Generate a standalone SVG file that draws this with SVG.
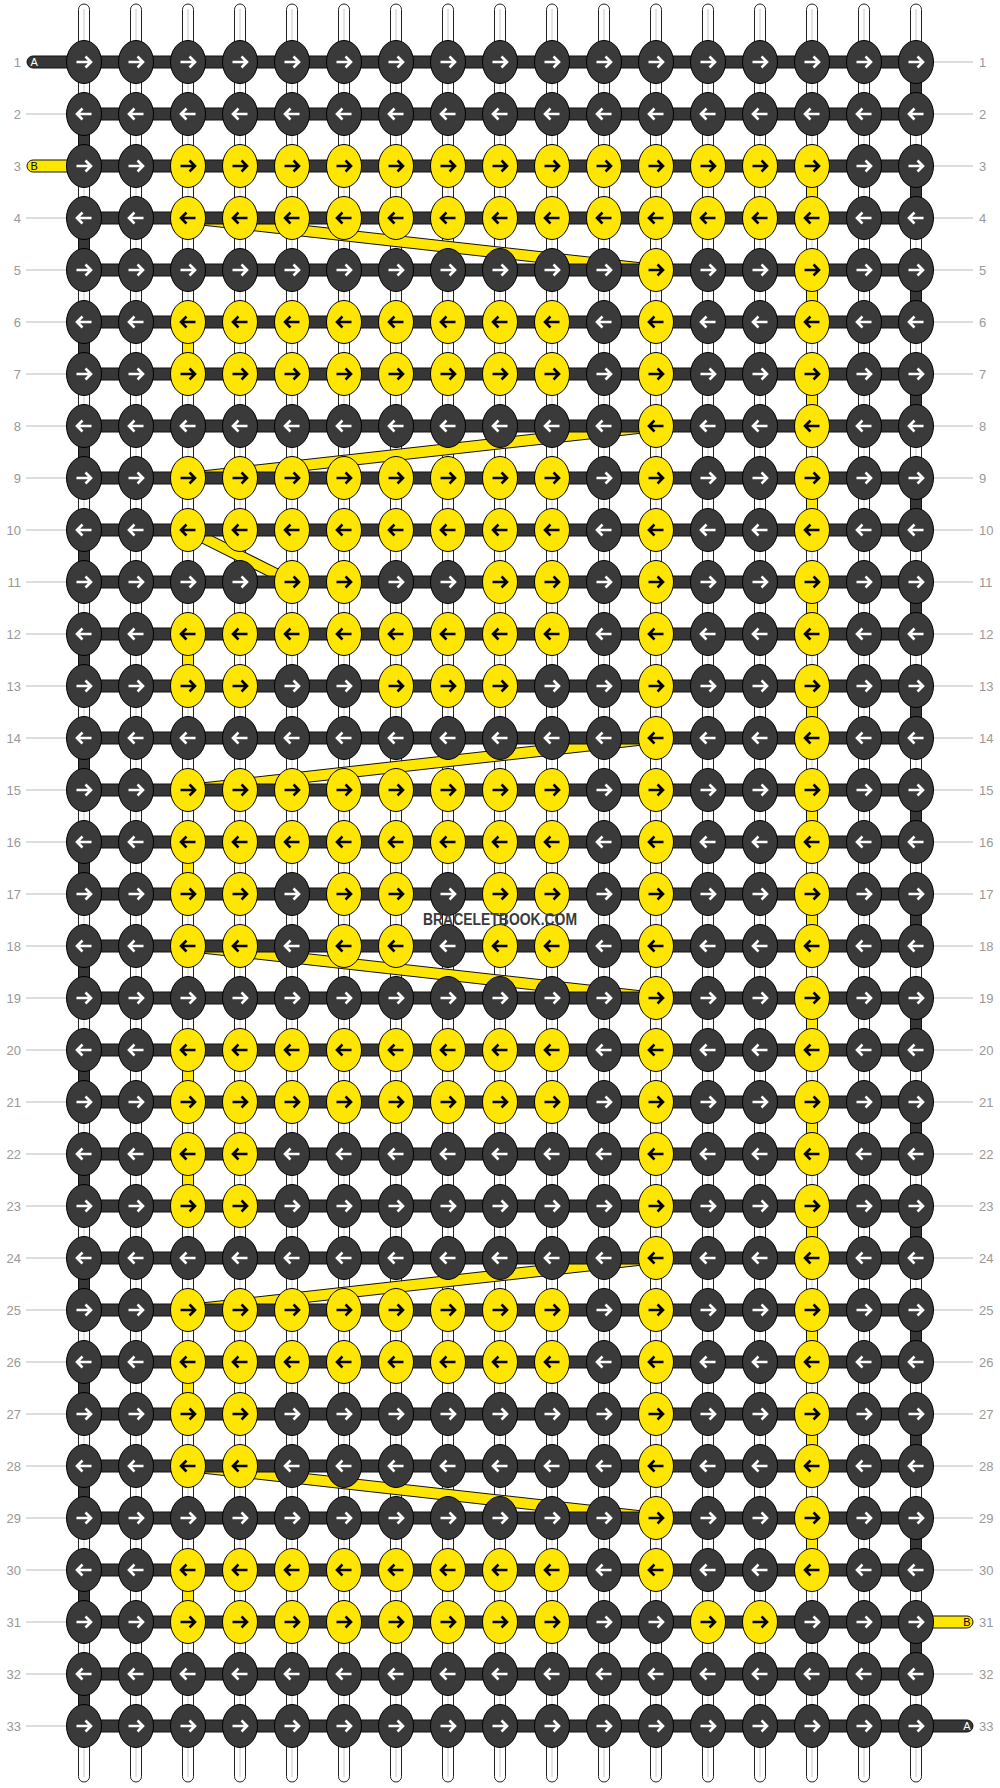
<svg xmlns="http://www.w3.org/2000/svg" xmlns:xlink="http://www.w3.org/1999/xlink" width="1000" height="1788" viewBox="0 0 1000 1788">
<style>
.str{fill:#fff;stroke:#222;stroke-width:1}
.sc{stroke:#c8c8c8;stroke-width:1}
.hb{fill:#363636;stroke:#111;stroke-width:1}
.ty{fill:#ffe600;stroke:#111;stroke-width:1}
.dg1{stroke:#111;stroke-width:12;fill:none}
.dg2{stroke:#ffe600;stroke-width:10;fill:none}
.kd{fill:#3a3a3a;stroke:#000;stroke-width:1}
.ky{fill:#ffe600;stroke:#000;stroke-width:1}
.aw{fill:none;stroke:#fff;stroke-width:2.6}
.ab{fill:none;stroke:#000;stroke-width:2.6}
.lab{font-family:"Liberation Sans",Arial,sans-serif;font-size:13px;fill:#999}
.ll{stroke:#bbb;stroke-width:1}
.tl{font-family:"Liberation Sans",Arial,sans-serif;font-size:11px}
</style>
<defs>
<g id="dR"><ellipse class="kd" rx="17.5" ry="21.5"/><path class="aw" d="M-7.5,0H6.5M1.5,-5.5L7,0L1.5,5.5"/></g>
<g id="dL"><ellipse class="kd" rx="17.5" ry="21.5"/><path class="aw" d="M7.5,0H-6.5M-1.5,-5.5L-7,0L-1.5,5.5"/></g>
<g id="yR"><ellipse class="ky" rx="17.5" ry="21.5"/><path class="ab" d="M-7.5,0H6.5M1.5,-5.5L7,0L1.5,5.5"/></g>
<g id="yL"><ellipse class="ky" rx="17.5" ry="21.5"/><path class="ab" d="M7.5,0H-6.5M-1.5,-5.5L-7,0L-1.5,5.5"/></g>
</defs>
<rect width="1000" height="1788" fill="#fff"/>
<g id="strings">
<rect class="str" x="78.5" y="4" width="11" height="1778" rx="5.5"/><line class="sc" x1="84" y1="9" x2="84" y2="1777"/>
<rect class="str" x="130.5" y="4" width="11" height="1778" rx="5.5"/><line class="sc" x1="136" y1="9" x2="136" y2="1777"/>
<rect class="str" x="182.5" y="4" width="11" height="1778" rx="5.5"/><line class="sc" x1="188" y1="9" x2="188" y2="1777"/>
<rect class="str" x="234.5" y="4" width="11" height="1778" rx="5.5"/><line class="sc" x1="240" y1="9" x2="240" y2="1777"/>
<rect class="str" x="286.5" y="4" width="11" height="1778" rx="5.5"/><line class="sc" x1="292" y1="9" x2="292" y2="1777"/>
<rect class="str" x="338.5" y="4" width="11" height="1778" rx="5.5"/><line class="sc" x1="344" y1="9" x2="344" y2="1777"/>
<rect class="str" x="390.5" y="4" width="11" height="1778" rx="5.5"/><line class="sc" x1="396" y1="9" x2="396" y2="1777"/>
<rect class="str" x="442.5" y="4" width="11" height="1778" rx="5.5"/><line class="sc" x1="448" y1="9" x2="448" y2="1777"/>
<rect class="str" x="494.5" y="4" width="11" height="1778" rx="5.5"/><line class="sc" x1="500" y1="9" x2="500" y2="1777"/>
<rect class="str" x="546.5" y="4" width="11" height="1778" rx="5.5"/><line class="sc" x1="552" y1="9" x2="552" y2="1777"/>
<rect class="str" x="598.5" y="4" width="11" height="1778" rx="5.5"/><line class="sc" x1="604" y1="9" x2="604" y2="1777"/>
<rect class="str" x="650.5" y="4" width="11" height="1778" rx="5.5"/><line class="sc" x1="656" y1="9" x2="656" y2="1777"/>
<rect class="str" x="702.5" y="4" width="11" height="1778" rx="5.5"/><line class="sc" x1="708" y1="9" x2="708" y2="1777"/>
<rect class="str" x="754.5" y="4" width="11" height="1778" rx="5.5"/><line class="sc" x1="760" y1="9" x2="760" y2="1777"/>
<rect class="str" x="806.5" y="4" width="11" height="1778" rx="5.5"/><line class="sc" x1="812" y1="9" x2="812" y2="1777"/>
<rect class="str" x="858.5" y="4" width="11" height="1778" rx="5.5"/><line class="sc" x1="864" y1="9" x2="864" y2="1777"/>
<rect class="str" x="910.5" y="4" width="11" height="1778" rx="5.5"/><line class="sc" x1="916" y1="9" x2="916" y2="1777"/>
</g>
<g id="labels">
<g class="ll">
<line x1="26" y1="114" x2="84" y2="114"/><line x1="26" y1="218" x2="84" y2="218"/><line x1="26" y1="270" x2="84" y2="270"/><line x1="26" y1="322" x2="84" y2="322"/><line x1="26" y1="374" x2="84" y2="374"/><line x1="26" y1="426" x2="84" y2="426"/><line x1="26" y1="478" x2="84" y2="478"/><line x1="26" y1="530" x2="84" y2="530"/><line x1="26" y1="582" x2="84" y2="582"/><line x1="26" y1="634" x2="84" y2="634"/><line x1="26" y1="686" x2="84" y2="686"/><line x1="26" y1="738" x2="84" y2="738"/><line x1="26" y1="790" x2="84" y2="790"/><line x1="26" y1="842" x2="84" y2="842"/><line x1="26" y1="894" x2="84" y2="894"/><line x1="26" y1="946" x2="84" y2="946"/><line x1="26" y1="998" x2="84" y2="998"/><line x1="26" y1="1050" x2="84" y2="1050"/><line x1="26" y1="1102" x2="84" y2="1102"/><line x1="26" y1="1154" x2="84" y2="1154"/><line x1="26" y1="1206" x2="84" y2="1206"/><line x1="26" y1="1258" x2="84" y2="1258"/><line x1="26" y1="1310" x2="84" y2="1310"/><line x1="26" y1="1362" x2="84" y2="1362"/><line x1="26" y1="1414" x2="84" y2="1414"/><line x1="26" y1="1466" x2="84" y2="1466"/><line x1="26" y1="1518" x2="84" y2="1518"/><line x1="26" y1="1570" x2="84" y2="1570"/><line x1="26" y1="1622" x2="84" y2="1622"/><line x1="26" y1="1674" x2="84" y2="1674"/><line x1="26" y1="1726" x2="84" y2="1726"/>
<line x1="916" y1="62" x2="973" y2="62"/><line x1="916" y1="114" x2="973" y2="114"/><line x1="916" y1="166" x2="973" y2="166"/><line x1="916" y1="218" x2="973" y2="218"/><line x1="916" y1="270" x2="973" y2="270"/><line x1="916" y1="322" x2="973" y2="322"/><line x1="916" y1="374" x2="973" y2="374"/><line x1="916" y1="426" x2="973" y2="426"/><line x1="916" y1="478" x2="973" y2="478"/><line x1="916" y1="530" x2="973" y2="530"/><line x1="916" y1="582" x2="973" y2="582"/><line x1="916" y1="634" x2="973" y2="634"/><line x1="916" y1="686" x2="973" y2="686"/><line x1="916" y1="738" x2="973" y2="738"/><line x1="916" y1="790" x2="973" y2="790"/><line x1="916" y1="842" x2="973" y2="842"/><line x1="916" y1="894" x2="973" y2="894"/><line x1="916" y1="946" x2="973" y2="946"/><line x1="916" y1="998" x2="973" y2="998"/><line x1="916" y1="1050" x2="973" y2="1050"/><line x1="916" y1="1102" x2="973" y2="1102"/><line x1="916" y1="1154" x2="973" y2="1154"/><line x1="916" y1="1206" x2="973" y2="1206"/><line x1="916" y1="1258" x2="973" y2="1258"/><line x1="916" y1="1310" x2="973" y2="1310"/><line x1="916" y1="1362" x2="973" y2="1362"/><line x1="916" y1="1414" x2="973" y2="1414"/><line x1="916" y1="1466" x2="973" y2="1466"/><line x1="916" y1="1518" x2="973" y2="1518"/><line x1="916" y1="1570" x2="973" y2="1570"/><line x1="916" y1="1674" x2="973" y2="1674"/>
</g>
<g class="lab" text-anchor="end">
<text x="21" y="66.5">1</text><text x="21" y="118.5">2</text><text x="21" y="170.5">3</text><text x="21" y="222.5">4</text><text x="21" y="274.5">5</text><text x="21" y="326.5">6</text><text x="21" y="378.5">7</text><text x="21" y="430.5">8</text><text x="21" y="482.5">9</text><text x="21" y="534.5">10</text><text x="21" y="586.5">11</text><text x="21" y="638.5">12</text><text x="21" y="690.5">13</text><text x="21" y="742.5">14</text><text x="21" y="794.5">15</text><text x="21" y="846.5">16</text><text x="21" y="898.5">17</text><text x="21" y="950.5">18</text><text x="21" y="1002.5">19</text><text x="21" y="1054.5">20</text><text x="21" y="1106.5">21</text><text x="21" y="1158.5">22</text><text x="21" y="1210.5">23</text><text x="21" y="1262.5">24</text><text x="21" y="1314.5">25</text><text x="21" y="1366.5">26</text><text x="21" y="1418.5">27</text><text x="21" y="1470.5">28</text><text x="21" y="1522.5">29</text><text x="21" y="1574.5">30</text><text x="21" y="1626.5">31</text><text x="21" y="1678.5">32</text><text x="21" y="1730.5">33</text>
</g>
<g class="lab" text-anchor="start">
<text x="979" y="66.5">1</text><text x="979" y="118.5">2</text><text x="979" y="170.5">3</text><text x="979" y="222.5">4</text><text x="979" y="274.5">5</text><text x="979" y="326.5">6</text><text x="979" y="378.5">7</text><text x="979" y="430.5">8</text><text x="979" y="482.5">9</text><text x="979" y="534.5">10</text><text x="979" y="586.5">11</text><text x="979" y="638.5">12</text><text x="979" y="690.5">13</text><text x="979" y="742.5">14</text><text x="979" y="794.5">15</text><text x="979" y="846.5">16</text><text x="979" y="898.5">17</text><text x="979" y="950.5">18</text><text x="979" y="1002.5">19</text><text x="979" y="1054.5">20</text><text x="979" y="1106.5">21</text><text x="979" y="1158.5">22</text><text x="979" y="1210.5">23</text><text x="979" y="1262.5">24</text><text x="979" y="1314.5">25</text><text x="979" y="1366.5">26</text><text x="979" y="1418.5">27</text><text x="979" y="1470.5">28</text><text x="979" y="1522.5">29</text><text x="979" y="1574.5">30</text><text x="979" y="1626.5">31</text><text x="979" y="1678.5">32</text><text x="979" y="1730.5">33</text>
</g>
</g>
<g id="connectors">
<g id="turns">
<rect class="hb" x="910.5" y="80" width="11" height="16"/><rect class="hb" x="910.5" y="184" width="11" height="16"/><rect class="hb" x="910.5" y="288" width="11" height="16"/><rect class="hb" x="910.5" y="392" width="11" height="16"/><rect class="hb" x="910.5" y="496" width="11" height="16"/><rect class="hb" x="910.5" y="600" width="11" height="16"/><rect class="hb" x="910.5" y="704" width="11" height="16"/><rect class="hb" x="910.5" y="808" width="11" height="16"/><rect class="hb" x="910.5" y="912" width="11" height="16"/><rect class="hb" x="910.5" y="1016" width="11" height="16"/><rect class="hb" x="910.5" y="1120" width="11" height="16"/><rect class="hb" x="910.5" y="1224" width="11" height="16"/><rect class="hb" x="910.5" y="1328" width="11" height="16"/><rect class="hb" x="910.5" y="1432" width="11" height="16"/><rect class="hb" x="910.5" y="1536" width="11" height="16"/><rect class="hb" x="910.5" y="1640" width="11" height="16"/>
<rect class="hb" x="78.5" y="132" width="11" height="16"/><rect class="hb" x="78.5" y="236" width="11" height="16"/><rect class="hb" x="78.5" y="340" width="11" height="16"/><rect class="hb" x="78.5" y="444" width="11" height="16"/><rect class="hb" x="78.5" y="548" width="11" height="16"/><rect class="hb" x="78.5" y="652" width="11" height="16"/><rect class="hb" x="78.5" y="756" width="11" height="16"/><rect class="hb" x="78.5" y="860" width="11" height="16"/><rect class="hb" x="78.5" y="964" width="11" height="16"/><rect class="hb" x="78.5" y="1068" width="11" height="16"/><rect class="hb" x="78.5" y="1172" width="11" height="16"/><rect class="hb" x="78.5" y="1276" width="11" height="16"/><rect class="hb" x="78.5" y="1380" width="11" height="16"/><rect class="hb" x="78.5" y="1484" width="11" height="16"/><rect class="hb" x="78.5" y="1588" width="11" height="16"/><rect class="hb" x="78.5" y="1692" width="11" height="16"/>
<rect class="ty" x="806.5" y="184" width="11" height="16"/><rect class="ty" x="806.5" y="288" width="11" height="16"/><rect class="ty" x="806.5" y="392" width="11" height="16"/><rect class="ty" x="806.5" y="496" width="11" height="16"/><rect class="ty" x="806.5" y="600" width="11" height="16"/><rect class="ty" x="806.5" y="704" width="11" height="16"/><rect class="ty" x="806.5" y="808" width="11" height="16"/><rect class="ty" x="806.5" y="912" width="11" height="16"/><rect class="ty" x="806.5" y="1016" width="11" height="16"/><rect class="ty" x="806.5" y="1120" width="11" height="16"/><rect class="ty" x="806.5" y="1224" width="11" height="16"/><rect class="ty" x="806.5" y="1328" width="11" height="16"/><rect class="ty" x="806.5" y="1432" width="11" height="16"/><rect class="ty" x="806.5" y="1536" width="11" height="16"/>
<rect class="ty" x="182.5" y="340" width="11" height="16"/><rect class="ty" x="182.5" y="652" width="11" height="16"/><rect class="ty" x="182.5" y="860" width="11" height="16"/><rect class="ty" x="182.5" y="1068" width="11" height="16"/><rect class="ty" x="182.5" y="1172" width="11" height="16"/><rect class="ty" x="182.5" y="1380" width="11" height="16"/><rect class="ty" x="182.5" y="1588" width="11" height="16"/>
</g>
<g id="diagonals">
<line class="dg1" x1="188" y1="218" x2="656" y2="270"/><line class="dg2" x1="188" y1="218" x2="656" y2="270"/>
<line class="dg1" x1="656" y1="426" x2="188" y2="478"/><line class="dg2" x1="656" y1="426" x2="188" y2="478"/>
<line class="dg1" x1="188" y1="530" x2="292" y2="582"/><line class="dg2" x1="188" y1="530" x2="292" y2="582"/>
<line class="dg1" x1="656" y1="738" x2="188" y2="790"/><line class="dg2" x1="656" y1="738" x2="188" y2="790"/>
<line class="dg1" x1="188" y1="946" x2="656" y2="998"/><line class="dg2" x1="188" y1="946" x2="656" y2="998"/>
<line class="dg1" x1="656" y1="1258" x2="188" y2="1310"/><line class="dg2" x1="656" y1="1258" x2="188" y2="1310"/>
<line class="dg1" x1="188" y1="1466" x2="656" y2="1518"/><line class="dg2" x1="188" y1="1466" x2="656" y2="1518"/>
</g>
<g id="bands">
<rect class="hb" x="84" y="56" width="832" height="12"/><rect class="hb" x="84" y="108" width="832" height="12"/><rect class="hb" x="84" y="160" width="832" height="12"/><rect class="hb" x="84" y="212" width="832" height="12"/><rect class="hb" x="84" y="264" width="832" height="12"/><rect class="hb" x="84" y="316" width="832" height="12"/><rect class="hb" x="84" y="368" width="832" height="12"/><rect class="hb" x="84" y="420" width="832" height="12"/><rect class="hb" x="84" y="472" width="832" height="12"/><rect class="hb" x="84" y="524" width="832" height="12"/><rect class="hb" x="84" y="576" width="832" height="12"/><rect class="hb" x="84" y="628" width="832" height="12"/><rect class="hb" x="84" y="680" width="832" height="12"/><rect class="hb" x="84" y="732" width="832" height="12"/><rect class="hb" x="84" y="784" width="832" height="12"/><rect class="hb" x="84" y="836" width="832" height="12"/><rect class="hb" x="84" y="888" width="832" height="12"/><rect class="hb" x="84" y="940" width="832" height="12"/><rect class="hb" x="84" y="992" width="832" height="12"/><rect class="hb" x="84" y="1044" width="832" height="12"/><rect class="hb" x="84" y="1096" width="832" height="12"/><rect class="hb" x="84" y="1148" width="832" height="12"/><rect class="hb" x="84" y="1200" width="832" height="12"/><rect class="hb" x="84" y="1252" width="832" height="12"/><rect class="hb" x="84" y="1304" width="832" height="12"/><rect class="hb" x="84" y="1356" width="832" height="12"/><rect class="hb" x="84" y="1408" width="832" height="12"/><rect class="hb" x="84" y="1460" width="832" height="12"/><rect class="hb" x="84" y="1512" width="832" height="12"/><rect class="hb" x="84" y="1564" width="832" height="12"/><rect class="hb" x="84" y="1616" width="832" height="12"/><rect class="hb" x="84" y="1668" width="832" height="12"/><rect class="hb" x="84" y="1720" width="832" height="12"/>
</g>
<g id="tails">
<rect class="hb" x="27" y="56" width="60" height="12" rx="6"/><text class="tl" x="30.5" y="66" fill="#fff">A</text>
<rect class="ty" x="27" y="160" width="60" height="12" rx="6"/><text class="tl" x="30.5" y="170" fill="#000">B</text>
<rect class="ty" x="913" y="1616" width="60" height="12" rx="6"/><text class="tl" x="970.5" y="1626" fill="#000" text-anchor="end">B</text>
<rect class="hb" x="913" y="1720" width="60" height="12" rx="6"/><text class="tl" x="970.5" y="1730" fill="#fff" text-anchor="end">A</text>
</g>
</g>
<g id="knots">
<g id="row1" transform="translate(0,62)"><g id="k1_1"><use href="#dR" x="84"/></g><g id="k1_2"><use href="#dR" x="136"/></g><g id="k1_3"><use href="#dR" x="188"/></g><g id="k1_4"><use href="#dR" x="240"/></g><g id="k1_5"><use href="#dR" x="292"/></g><g id="k1_6"><use href="#dR" x="344"/></g><g id="k1_7"><use href="#dR" x="396"/></g><g id="k1_8"><use href="#dR" x="448"/></g><g id="k1_9"><use href="#dR" x="500"/></g><g id="k1_10"><use href="#dR" x="552"/></g><g id="k1_11"><use href="#dR" x="604"/></g><g id="k1_12"><use href="#dR" x="656"/></g><g id="k1_13"><use href="#dR" x="708"/></g><g id="k1_14"><use href="#dR" x="760"/></g><g id="k1_15"><use href="#dR" x="812"/></g><g id="k1_16"><use href="#dR" x="864"/></g><g id="k1_17"><use href="#dR" x="916"/></g></g>
<g id="row2" transform="translate(0,114)"><g id="k2_1"><use href="#dL" x="84"/></g><g id="k2_2"><use href="#dL" x="136"/></g><g id="k2_3"><use href="#dL" x="188"/></g><g id="k2_4"><use href="#dL" x="240"/></g><g id="k2_5"><use href="#dL" x="292"/></g><g id="k2_6"><use href="#dL" x="344"/></g><g id="k2_7"><use href="#dL" x="396"/></g><g id="k2_8"><use href="#dL" x="448"/></g><g id="k2_9"><use href="#dL" x="500"/></g><g id="k2_10"><use href="#dL" x="552"/></g><g id="k2_11"><use href="#dL" x="604"/></g><g id="k2_12"><use href="#dL" x="656"/></g><g id="k2_13"><use href="#dL" x="708"/></g><g id="k2_14"><use href="#dL" x="760"/></g><g id="k2_15"><use href="#dL" x="812"/></g><g id="k2_16"><use href="#dL" x="864"/></g><g id="k2_17"><use href="#dL" x="916"/></g></g>
<g id="row3" transform="translate(0,166)"><g id="k3_1"><use href="#dR" x="84"/></g><g id="k3_2"><use href="#dR" x="136"/></g><g id="k3_3"><use href="#yR" x="188"/></g><g id="k3_4"><use href="#yR" x="240"/></g><g id="k3_5"><use href="#yR" x="292"/></g><g id="k3_6"><use href="#yR" x="344"/></g><g id="k3_7"><use href="#yR" x="396"/></g><g id="k3_8"><use href="#yR" x="448"/></g><g id="k3_9"><use href="#yR" x="500"/></g><g id="k3_10"><use href="#yR" x="552"/></g><g id="k3_11"><use href="#yR" x="604"/></g><g id="k3_12"><use href="#yR" x="656"/></g><g id="k3_13"><use href="#yR" x="708"/></g><g id="k3_14"><use href="#yR" x="760"/></g><g id="k3_15"><use href="#yR" x="812"/></g><g id="k3_16"><use href="#dR" x="864"/></g><g id="k3_17"><use href="#dR" x="916"/></g></g>
<g id="row4" transform="translate(0,218)"><g id="k4_1"><use href="#dL" x="84"/></g><g id="k4_2"><use href="#dL" x="136"/></g><g id="k4_3"><use href="#yL" x="188"/></g><g id="k4_4"><use href="#yL" x="240"/></g><g id="k4_5"><use href="#yL" x="292"/></g><g id="k4_6"><use href="#yL" x="344"/></g><g id="k4_7"><use href="#yL" x="396"/></g><g id="k4_8"><use href="#yL" x="448"/></g><g id="k4_9"><use href="#yL" x="500"/></g><g id="k4_10"><use href="#yL" x="552"/></g><g id="k4_11"><use href="#yL" x="604"/></g><g id="k4_12"><use href="#yL" x="656"/></g><g id="k4_13"><use href="#yL" x="708"/></g><g id="k4_14"><use href="#yL" x="760"/></g><g id="k4_15"><use href="#yL" x="812"/></g><g id="k4_16"><use href="#dL" x="864"/></g><g id="k4_17"><use href="#dL" x="916"/></g></g>
<g id="row5" transform="translate(0,270)"><g id="k5_1"><use href="#dR" x="84"/></g><g id="k5_2"><use href="#dR" x="136"/></g><g id="k5_3"><use href="#dR" x="188"/></g><g id="k5_4"><use href="#dR" x="240"/></g><g id="k5_5"><use href="#dR" x="292"/></g><g id="k5_6"><use href="#dR" x="344"/></g><g id="k5_7"><use href="#dR" x="396"/></g><g id="k5_8"><use href="#dR" x="448"/></g><g id="k5_9"><use href="#dR" x="500"/></g><g id="k5_10"><use href="#dR" x="552"/></g><g id="k5_11"><use href="#dR" x="604"/></g><g id="k5_12"><use href="#yR" x="656"/></g><g id="k5_13"><use href="#dR" x="708"/></g><g id="k5_14"><use href="#dR" x="760"/></g><g id="k5_15"><use href="#yR" x="812"/></g><g id="k5_16"><use href="#dR" x="864"/></g><g id="k5_17"><use href="#dR" x="916"/></g></g>
<g id="row6" transform="translate(0,322)"><g id="k6_1"><use href="#dL" x="84"/></g><g id="k6_2"><use href="#dL" x="136"/></g><g id="k6_3"><use href="#yL" x="188"/></g><g id="k6_4"><use href="#yL" x="240"/></g><g id="k6_5"><use href="#yL" x="292"/></g><g id="k6_6"><use href="#yL" x="344"/></g><g id="k6_7"><use href="#yL" x="396"/></g><g id="k6_8"><use href="#yL" x="448"/></g><g id="k6_9"><use href="#yL" x="500"/></g><g id="k6_10"><use href="#yL" x="552"/></g><g id="k6_11"><use href="#dL" x="604"/></g><g id="k6_12"><use href="#yL" x="656"/></g><g id="k6_13"><use href="#dL" x="708"/></g><g id="k6_14"><use href="#dL" x="760"/></g><g id="k6_15"><use href="#yL" x="812"/></g><g id="k6_16"><use href="#dL" x="864"/></g><g id="k6_17"><use href="#dL" x="916"/></g></g>
<g id="row7" transform="translate(0,374)"><g id="k7_1"><use href="#dR" x="84"/></g><g id="k7_2"><use href="#dR" x="136"/></g><g id="k7_3"><use href="#yR" x="188"/></g><g id="k7_4"><use href="#yR" x="240"/></g><g id="k7_5"><use href="#yR" x="292"/></g><g id="k7_6"><use href="#yR" x="344"/></g><g id="k7_7"><use href="#yR" x="396"/></g><g id="k7_8"><use href="#yR" x="448"/></g><g id="k7_9"><use href="#yR" x="500"/></g><g id="k7_10"><use href="#yR" x="552"/></g><g id="k7_11"><use href="#dR" x="604"/></g><g id="k7_12"><use href="#yR" x="656"/></g><g id="k7_13"><use href="#dR" x="708"/></g><g id="k7_14"><use href="#dR" x="760"/></g><g id="k7_15"><use href="#yR" x="812"/></g><g id="k7_16"><use href="#dR" x="864"/></g><g id="k7_17"><use href="#dR" x="916"/></g></g>
<g id="row8" transform="translate(0,426)"><g id="k8_1"><use href="#dL" x="84"/></g><g id="k8_2"><use href="#dL" x="136"/></g><g id="k8_3"><use href="#dL" x="188"/></g><g id="k8_4"><use href="#dL" x="240"/></g><g id="k8_5"><use href="#dL" x="292"/></g><g id="k8_6"><use href="#dL" x="344"/></g><g id="k8_7"><use href="#dL" x="396"/></g><g id="k8_8"><use href="#dL" x="448"/></g><g id="k8_9"><use href="#dL" x="500"/></g><g id="k8_10"><use href="#dL" x="552"/></g><g id="k8_11"><use href="#dL" x="604"/></g><g id="k8_12"><use href="#yL" x="656"/></g><g id="k8_13"><use href="#dL" x="708"/></g><g id="k8_14"><use href="#dL" x="760"/></g><g id="k8_15"><use href="#yL" x="812"/></g><g id="k8_16"><use href="#dL" x="864"/></g><g id="k8_17"><use href="#dL" x="916"/></g></g>
<g id="row9" transform="translate(0,478)"><g id="k9_1"><use href="#dR" x="84"/></g><g id="k9_2"><use href="#dR" x="136"/></g><g id="k9_3"><use href="#yR" x="188"/></g><g id="k9_4"><use href="#yR" x="240"/></g><g id="k9_5"><use href="#yR" x="292"/></g><g id="k9_6"><use href="#yR" x="344"/></g><g id="k9_7"><use href="#yR" x="396"/></g><g id="k9_8"><use href="#yR" x="448"/></g><g id="k9_9"><use href="#yR" x="500"/></g><g id="k9_10"><use href="#yR" x="552"/></g><g id="k9_11"><use href="#dR" x="604"/></g><g id="k9_12"><use href="#yR" x="656"/></g><g id="k9_13"><use href="#dR" x="708"/></g><g id="k9_14"><use href="#dR" x="760"/></g><g id="k9_15"><use href="#yR" x="812"/></g><g id="k9_16"><use href="#dR" x="864"/></g><g id="k9_17"><use href="#dR" x="916"/></g></g>
<g id="row10" transform="translate(0,530)"><g id="k10_1"><use href="#dL" x="84"/></g><g id="k10_2"><use href="#dL" x="136"/></g><g id="k10_3"><use href="#yL" x="188"/></g><g id="k10_4"><use href="#yL" x="240"/></g><g id="k10_5"><use href="#yL" x="292"/></g><g id="k10_6"><use href="#yL" x="344"/></g><g id="k10_7"><use href="#yL" x="396"/></g><g id="k10_8"><use href="#yL" x="448"/></g><g id="k10_9"><use href="#yL" x="500"/></g><g id="k10_10"><use href="#yL" x="552"/></g><g id="k10_11"><use href="#dL" x="604"/></g><g id="k10_12"><use href="#yL" x="656"/></g><g id="k10_13"><use href="#dL" x="708"/></g><g id="k10_14"><use href="#dL" x="760"/></g><g id="k10_15"><use href="#yL" x="812"/></g><g id="k10_16"><use href="#dL" x="864"/></g><g id="k10_17"><use href="#dL" x="916"/></g></g>
<g id="row11" transform="translate(0,582)"><g id="k11_1"><use href="#dR" x="84"/></g><g id="k11_2"><use href="#dR" x="136"/></g><g id="k11_3"><use href="#dR" x="188"/></g><g id="k11_4"><use href="#dR" x="240"/></g><g id="k11_5"><use href="#yR" x="292"/></g><g id="k11_6"><use href="#yR" x="344"/></g><g id="k11_7"><use href="#dR" x="396"/></g><g id="k11_8"><use href="#dR" x="448"/></g><g id="k11_9"><use href="#yR" x="500"/></g><g id="k11_10"><use href="#yR" x="552"/></g><g id="k11_11"><use href="#dR" x="604"/></g><g id="k11_12"><use href="#yR" x="656"/></g><g id="k11_13"><use href="#dR" x="708"/></g><g id="k11_14"><use href="#dR" x="760"/></g><g id="k11_15"><use href="#yR" x="812"/></g><g id="k11_16"><use href="#dR" x="864"/></g><g id="k11_17"><use href="#dR" x="916"/></g></g>
<g id="row12" transform="translate(0,634)"><g id="k12_1"><use href="#dL" x="84"/></g><g id="k12_2"><use href="#dL" x="136"/></g><g id="k12_3"><use href="#yL" x="188"/></g><g id="k12_4"><use href="#yL" x="240"/></g><g id="k12_5"><use href="#yL" x="292"/></g><g id="k12_6"><use href="#yL" x="344"/></g><g id="k12_7"><use href="#yL" x="396"/></g><g id="k12_8"><use href="#yL" x="448"/></g><g id="k12_9"><use href="#yL" x="500"/></g><g id="k12_10"><use href="#yL" x="552"/></g><g id="k12_11"><use href="#dL" x="604"/></g><g id="k12_12"><use href="#yL" x="656"/></g><g id="k12_13"><use href="#dL" x="708"/></g><g id="k12_14"><use href="#dL" x="760"/></g><g id="k12_15"><use href="#yL" x="812"/></g><g id="k12_16"><use href="#dL" x="864"/></g><g id="k12_17"><use href="#dL" x="916"/></g></g>
<g id="row13" transform="translate(0,686)"><g id="k13_1"><use href="#dR" x="84"/></g><g id="k13_2"><use href="#dR" x="136"/></g><g id="k13_3"><use href="#yR" x="188"/></g><g id="k13_4"><use href="#yR" x="240"/></g><g id="k13_5"><use href="#dR" x="292"/></g><g id="k13_6"><use href="#dR" x="344"/></g><g id="k13_7"><use href="#yR" x="396"/></g><g id="k13_8"><use href="#yR" x="448"/></g><g id="k13_9"><use href="#yR" x="500"/></g><g id="k13_10"><use href="#dR" x="552"/></g><g id="k13_11"><use href="#dR" x="604"/></g><g id="k13_12"><use href="#yR" x="656"/></g><g id="k13_13"><use href="#dR" x="708"/></g><g id="k13_14"><use href="#dR" x="760"/></g><g id="k13_15"><use href="#yR" x="812"/></g><g id="k13_16"><use href="#dR" x="864"/></g><g id="k13_17"><use href="#dR" x="916"/></g></g>
<g id="row14" transform="translate(0,738)"><g id="k14_1"><use href="#dL" x="84"/></g><g id="k14_2"><use href="#dL" x="136"/></g><g id="k14_3"><use href="#dL" x="188"/></g><g id="k14_4"><use href="#dL" x="240"/></g><g id="k14_5"><use href="#dL" x="292"/></g><g id="k14_6"><use href="#dL" x="344"/></g><g id="k14_7"><use href="#dL" x="396"/></g><g id="k14_8"><use href="#dL" x="448"/></g><g id="k14_9"><use href="#dL" x="500"/></g><g id="k14_10"><use href="#dL" x="552"/></g><g id="k14_11"><use href="#dL" x="604"/></g><g id="k14_12"><use href="#yL" x="656"/></g><g id="k14_13"><use href="#dL" x="708"/></g><g id="k14_14"><use href="#dL" x="760"/></g><g id="k14_15"><use href="#yL" x="812"/></g><g id="k14_16"><use href="#dL" x="864"/></g><g id="k14_17"><use href="#dL" x="916"/></g></g>
<g id="row15" transform="translate(0,790)"><g id="k15_1"><use href="#dR" x="84"/></g><g id="k15_2"><use href="#dR" x="136"/></g><g id="k15_3"><use href="#yR" x="188"/></g><g id="k15_4"><use href="#yR" x="240"/></g><g id="k15_5"><use href="#yR" x="292"/></g><g id="k15_6"><use href="#yR" x="344"/></g><g id="k15_7"><use href="#yR" x="396"/></g><g id="k15_8"><use href="#yR" x="448"/></g><g id="k15_9"><use href="#yR" x="500"/></g><g id="k15_10"><use href="#yR" x="552"/></g><g id="k15_11"><use href="#dR" x="604"/></g><g id="k15_12"><use href="#yR" x="656"/></g><g id="k15_13"><use href="#dR" x="708"/></g><g id="k15_14"><use href="#dR" x="760"/></g><g id="k15_15"><use href="#yR" x="812"/></g><g id="k15_16"><use href="#dR" x="864"/></g><g id="k15_17"><use href="#dR" x="916"/></g></g>
<g id="row16" transform="translate(0,842)"><g id="k16_1"><use href="#dL" x="84"/></g><g id="k16_2"><use href="#dL" x="136"/></g><g id="k16_3"><use href="#yL" x="188"/></g><g id="k16_4"><use href="#yL" x="240"/></g><g id="k16_5"><use href="#yL" x="292"/></g><g id="k16_6"><use href="#yL" x="344"/></g><g id="k16_7"><use href="#yL" x="396"/></g><g id="k16_8"><use href="#yL" x="448"/></g><g id="k16_9"><use href="#yL" x="500"/></g><g id="k16_10"><use href="#yL" x="552"/></g><g id="k16_11"><use href="#dL" x="604"/></g><g id="k16_12"><use href="#yL" x="656"/></g><g id="k16_13"><use href="#dL" x="708"/></g><g id="k16_14"><use href="#dL" x="760"/></g><g id="k16_15"><use href="#yL" x="812"/></g><g id="k16_16"><use href="#dL" x="864"/></g><g id="k16_17"><use href="#dL" x="916"/></g></g>
<g id="row17" transform="translate(0,894)"><g id="k17_1"><use href="#dR" x="84"/></g><g id="k17_2"><use href="#dR" x="136"/></g><g id="k17_3"><use href="#yR" x="188"/></g><g id="k17_4"><use href="#yR" x="240"/></g><g id="k17_5"><use href="#dR" x="292"/></g><g id="k17_6"><use href="#yR" x="344"/></g><g id="k17_7"><use href="#yR" x="396"/></g><g id="k17_8"><use href="#dR" x="448"/></g><g id="k17_9"><use href="#yR" x="500"/></g><g id="k17_10"><use href="#yR" x="552"/></g><g id="k17_11"><use href="#dR" x="604"/></g><g id="k17_12"><use href="#yR" x="656"/></g><g id="k17_13"><use href="#dR" x="708"/></g><g id="k17_14"><use href="#dR" x="760"/></g><g id="k17_15"><use href="#yR" x="812"/></g><g id="k17_16"><use href="#dR" x="864"/></g><g id="k17_17"><use href="#dR" x="916"/></g></g>
<g id="row18" transform="translate(0,946)"><g id="k18_1"><use href="#dL" x="84"/></g><g id="k18_2"><use href="#dL" x="136"/></g><g id="k18_3"><use href="#yL" x="188"/></g><g id="k18_4"><use href="#yL" x="240"/></g><g id="k18_5"><use href="#dL" x="292"/></g><g id="k18_6"><use href="#yL" x="344"/></g><g id="k18_7"><use href="#yL" x="396"/></g><g id="k18_8"><use href="#dL" x="448"/></g><g id="k18_9"><use href="#yL" x="500"/></g><g id="k18_10"><use href="#yL" x="552"/></g><g id="k18_11"><use href="#dL" x="604"/></g><g id="k18_12"><use href="#yL" x="656"/></g><g id="k18_13"><use href="#dL" x="708"/></g><g id="k18_14"><use href="#dL" x="760"/></g><g id="k18_15"><use href="#yL" x="812"/></g><g id="k18_16"><use href="#dL" x="864"/></g><g id="k18_17"><use href="#dL" x="916"/></g></g>
<g id="row19" transform="translate(0,998)"><g id="k19_1"><use href="#dR" x="84"/></g><g id="k19_2"><use href="#dR" x="136"/></g><g id="k19_3"><use href="#dR" x="188"/></g><g id="k19_4"><use href="#dR" x="240"/></g><g id="k19_5"><use href="#dR" x="292"/></g><g id="k19_6"><use href="#dR" x="344"/></g><g id="k19_7"><use href="#dR" x="396"/></g><g id="k19_8"><use href="#dR" x="448"/></g><g id="k19_9"><use href="#dR" x="500"/></g><g id="k19_10"><use href="#dR" x="552"/></g><g id="k19_11"><use href="#dR" x="604"/></g><g id="k19_12"><use href="#yR" x="656"/></g><g id="k19_13"><use href="#dR" x="708"/></g><g id="k19_14"><use href="#dR" x="760"/></g><g id="k19_15"><use href="#yR" x="812"/></g><g id="k19_16"><use href="#dR" x="864"/></g><g id="k19_17"><use href="#dR" x="916"/></g></g>
<g id="row20" transform="translate(0,1050)"><g id="k20_1"><use href="#dL" x="84"/></g><g id="k20_2"><use href="#dL" x="136"/></g><g id="k20_3"><use href="#yL" x="188"/></g><g id="k20_4"><use href="#yL" x="240"/></g><g id="k20_5"><use href="#yL" x="292"/></g><g id="k20_6"><use href="#yL" x="344"/></g><g id="k20_7"><use href="#yL" x="396"/></g><g id="k20_8"><use href="#yL" x="448"/></g><g id="k20_9"><use href="#yL" x="500"/></g><g id="k20_10"><use href="#yL" x="552"/></g><g id="k20_11"><use href="#dL" x="604"/></g><g id="k20_12"><use href="#yL" x="656"/></g><g id="k20_13"><use href="#dL" x="708"/></g><g id="k20_14"><use href="#dL" x="760"/></g><g id="k20_15"><use href="#yL" x="812"/></g><g id="k20_16"><use href="#dL" x="864"/></g><g id="k20_17"><use href="#dL" x="916"/></g></g>
<g id="row21" transform="translate(0,1102)"><g id="k21_1"><use href="#dR" x="84"/></g><g id="k21_2"><use href="#dR" x="136"/></g><g id="k21_3"><use href="#yR" x="188"/></g><g id="k21_4"><use href="#yR" x="240"/></g><g id="k21_5"><use href="#yR" x="292"/></g><g id="k21_6"><use href="#yR" x="344"/></g><g id="k21_7"><use href="#yR" x="396"/></g><g id="k21_8"><use href="#yR" x="448"/></g><g id="k21_9"><use href="#yR" x="500"/></g><g id="k21_10"><use href="#yR" x="552"/></g><g id="k21_11"><use href="#dR" x="604"/></g><g id="k21_12"><use href="#yR" x="656"/></g><g id="k21_13"><use href="#dR" x="708"/></g><g id="k21_14"><use href="#dR" x="760"/></g><g id="k21_15"><use href="#yR" x="812"/></g><g id="k21_16"><use href="#dR" x="864"/></g><g id="k21_17"><use href="#dR" x="916"/></g></g>
<g id="row22" transform="translate(0,1154)"><g id="k22_1"><use href="#dL" x="84"/></g><g id="k22_2"><use href="#dL" x="136"/></g><g id="k22_3"><use href="#yL" x="188"/></g><g id="k22_4"><use href="#yL" x="240"/></g><g id="k22_5"><use href="#dL" x="292"/></g><g id="k22_6"><use href="#dL" x="344"/></g><g id="k22_7"><use href="#dL" x="396"/></g><g id="k22_8"><use href="#dL" x="448"/></g><g id="k22_9"><use href="#dL" x="500"/></g><g id="k22_10"><use href="#dL" x="552"/></g><g id="k22_11"><use href="#dL" x="604"/></g><g id="k22_12"><use href="#yL" x="656"/></g><g id="k22_13"><use href="#dL" x="708"/></g><g id="k22_14"><use href="#dL" x="760"/></g><g id="k22_15"><use href="#yL" x="812"/></g><g id="k22_16"><use href="#dL" x="864"/></g><g id="k22_17"><use href="#dL" x="916"/></g></g>
<g id="row23" transform="translate(0,1206)"><g id="k23_1"><use href="#dR" x="84"/></g><g id="k23_2"><use href="#dR" x="136"/></g><g id="k23_3"><use href="#yR" x="188"/></g><g id="k23_4"><use href="#yR" x="240"/></g><g id="k23_5"><use href="#dR" x="292"/></g><g id="k23_6"><use href="#dR" x="344"/></g><g id="k23_7"><use href="#dR" x="396"/></g><g id="k23_8"><use href="#dR" x="448"/></g><g id="k23_9"><use href="#dR" x="500"/></g><g id="k23_10"><use href="#dR" x="552"/></g><g id="k23_11"><use href="#dR" x="604"/></g><g id="k23_12"><use href="#yR" x="656"/></g><g id="k23_13"><use href="#dR" x="708"/></g><g id="k23_14"><use href="#dR" x="760"/></g><g id="k23_15"><use href="#yR" x="812"/></g><g id="k23_16"><use href="#dR" x="864"/></g><g id="k23_17"><use href="#dR" x="916"/></g></g>
<g id="row24" transform="translate(0,1258)"><g id="k24_1"><use href="#dL" x="84"/></g><g id="k24_2"><use href="#dL" x="136"/></g><g id="k24_3"><use href="#dL" x="188"/></g><g id="k24_4"><use href="#dL" x="240"/></g><g id="k24_5"><use href="#dL" x="292"/></g><g id="k24_6"><use href="#dL" x="344"/></g><g id="k24_7"><use href="#dL" x="396"/></g><g id="k24_8"><use href="#dL" x="448"/></g><g id="k24_9"><use href="#dL" x="500"/></g><g id="k24_10"><use href="#dL" x="552"/></g><g id="k24_11"><use href="#dL" x="604"/></g><g id="k24_12"><use href="#yL" x="656"/></g><g id="k24_13"><use href="#dL" x="708"/></g><g id="k24_14"><use href="#dL" x="760"/></g><g id="k24_15"><use href="#yL" x="812"/></g><g id="k24_16"><use href="#dL" x="864"/></g><g id="k24_17"><use href="#dL" x="916"/></g></g>
<g id="row25" transform="translate(0,1310)"><g id="k25_1"><use href="#dR" x="84"/></g><g id="k25_2"><use href="#dR" x="136"/></g><g id="k25_3"><use href="#yR" x="188"/></g><g id="k25_4"><use href="#yR" x="240"/></g><g id="k25_5"><use href="#yR" x="292"/></g><g id="k25_6"><use href="#yR" x="344"/></g><g id="k25_7"><use href="#yR" x="396"/></g><g id="k25_8"><use href="#yR" x="448"/></g><g id="k25_9"><use href="#yR" x="500"/></g><g id="k25_10"><use href="#yR" x="552"/></g><g id="k25_11"><use href="#dR" x="604"/></g><g id="k25_12"><use href="#yR" x="656"/></g><g id="k25_13"><use href="#dR" x="708"/></g><g id="k25_14"><use href="#dR" x="760"/></g><g id="k25_15"><use href="#yR" x="812"/></g><g id="k25_16"><use href="#dR" x="864"/></g><g id="k25_17"><use href="#dR" x="916"/></g></g>
<g id="row26" transform="translate(0,1362)"><g id="k26_1"><use href="#dL" x="84"/></g><g id="k26_2"><use href="#dL" x="136"/></g><g id="k26_3"><use href="#yL" x="188"/></g><g id="k26_4"><use href="#yL" x="240"/></g><g id="k26_5"><use href="#yL" x="292"/></g><g id="k26_6"><use href="#yL" x="344"/></g><g id="k26_7"><use href="#yL" x="396"/></g><g id="k26_8"><use href="#yL" x="448"/></g><g id="k26_9"><use href="#yL" x="500"/></g><g id="k26_10"><use href="#yL" x="552"/></g><g id="k26_11"><use href="#dL" x="604"/></g><g id="k26_12"><use href="#yL" x="656"/></g><g id="k26_13"><use href="#dL" x="708"/></g><g id="k26_14"><use href="#dL" x="760"/></g><g id="k26_15"><use href="#yL" x="812"/></g><g id="k26_16"><use href="#dL" x="864"/></g><g id="k26_17"><use href="#dL" x="916"/></g></g>
<g id="row27" transform="translate(0,1414)"><g id="k27_1"><use href="#dR" x="84"/></g><g id="k27_2"><use href="#dR" x="136"/></g><g id="k27_3"><use href="#yR" x="188"/></g><g id="k27_4"><use href="#yR" x="240"/></g><g id="k27_5"><use href="#dR" x="292"/></g><g id="k27_6"><use href="#dR" x="344"/></g><g id="k27_7"><use href="#dR" x="396"/></g><g id="k27_8"><use href="#dR" x="448"/></g><g id="k27_9"><use href="#dR" x="500"/></g><g id="k27_10"><use href="#dR" x="552"/></g><g id="k27_11"><use href="#dR" x="604"/></g><g id="k27_12"><use href="#yR" x="656"/></g><g id="k27_13"><use href="#dR" x="708"/></g><g id="k27_14"><use href="#dR" x="760"/></g><g id="k27_15"><use href="#yR" x="812"/></g><g id="k27_16"><use href="#dR" x="864"/></g><g id="k27_17"><use href="#dR" x="916"/></g></g>
<g id="row28" transform="translate(0,1466)"><g id="k28_1"><use href="#dL" x="84"/></g><g id="k28_2"><use href="#dL" x="136"/></g><g id="k28_3"><use href="#yL" x="188"/></g><g id="k28_4"><use href="#yL" x="240"/></g><g id="k28_5"><use href="#dL" x="292"/></g><g id="k28_6"><use href="#dL" x="344"/></g><g id="k28_7"><use href="#dL" x="396"/></g><g id="k28_8"><use href="#dL" x="448"/></g><g id="k28_9"><use href="#dL" x="500"/></g><g id="k28_10"><use href="#dL" x="552"/></g><g id="k28_11"><use href="#dL" x="604"/></g><g id="k28_12"><use href="#yL" x="656"/></g><g id="k28_13"><use href="#dL" x="708"/></g><g id="k28_14"><use href="#dL" x="760"/></g><g id="k28_15"><use href="#yL" x="812"/></g><g id="k28_16"><use href="#dL" x="864"/></g><g id="k28_17"><use href="#dL" x="916"/></g></g>
<g id="row29" transform="translate(0,1518)"><g id="k29_1"><use href="#dR" x="84"/></g><g id="k29_2"><use href="#dR" x="136"/></g><g id="k29_3"><use href="#dR" x="188"/></g><g id="k29_4"><use href="#dR" x="240"/></g><g id="k29_5"><use href="#dR" x="292"/></g><g id="k29_6"><use href="#dR" x="344"/></g><g id="k29_7"><use href="#dR" x="396"/></g><g id="k29_8"><use href="#dR" x="448"/></g><g id="k29_9"><use href="#dR" x="500"/></g><g id="k29_10"><use href="#dR" x="552"/></g><g id="k29_11"><use href="#dR" x="604"/></g><g id="k29_12"><use href="#yR" x="656"/></g><g id="k29_13"><use href="#dR" x="708"/></g><g id="k29_14"><use href="#dR" x="760"/></g><g id="k29_15"><use href="#yR" x="812"/></g><g id="k29_16"><use href="#dR" x="864"/></g><g id="k29_17"><use href="#dR" x="916"/></g></g>
<g id="row30" transform="translate(0,1570)"><g id="k30_1"><use href="#dL" x="84"/></g><g id="k30_2"><use href="#dL" x="136"/></g><g id="k30_3"><use href="#yL" x="188"/></g><g id="k30_4"><use href="#yL" x="240"/></g><g id="k30_5"><use href="#yL" x="292"/></g><g id="k30_6"><use href="#yL" x="344"/></g><g id="k30_7"><use href="#yL" x="396"/></g><g id="k30_8"><use href="#yL" x="448"/></g><g id="k30_9"><use href="#yL" x="500"/></g><g id="k30_10"><use href="#yL" x="552"/></g><g id="k30_11"><use href="#dL" x="604"/></g><g id="k30_12"><use href="#yL" x="656"/></g><g id="k30_13"><use href="#dL" x="708"/></g><g id="k30_14"><use href="#dL" x="760"/></g><g id="k30_15"><use href="#yL" x="812"/></g><g id="k30_16"><use href="#dL" x="864"/></g><g id="k30_17"><use href="#dL" x="916"/></g></g>
<g id="row31" transform="translate(0,1622)"><g id="k31_1"><use href="#dR" x="84"/></g><g id="k31_2"><use href="#dR" x="136"/></g><g id="k31_3"><use href="#yR" x="188"/></g><g id="k31_4"><use href="#yR" x="240"/></g><g id="k31_5"><use href="#yR" x="292"/></g><g id="k31_6"><use href="#yR" x="344"/></g><g id="k31_7"><use href="#yR" x="396"/></g><g id="k31_8"><use href="#yR" x="448"/></g><g id="k31_9"><use href="#yR" x="500"/></g><g id="k31_10"><use href="#yR" x="552"/></g><g id="k31_11"><use href="#dR" x="604"/></g><g id="k31_12"><use href="#dR" x="656"/></g><g id="k31_13"><use href="#yR" x="708"/></g><g id="k31_14"><use href="#yR" x="760"/></g><g id="k31_15"><use href="#dR" x="812"/></g><g id="k31_16"><use href="#dR" x="864"/></g><g id="k31_17"><use href="#dR" x="916"/></g></g>
<g id="row32" transform="translate(0,1674)"><g id="k32_1"><use href="#dL" x="84"/></g><g id="k32_2"><use href="#dL" x="136"/></g><g id="k32_3"><use href="#dL" x="188"/></g><g id="k32_4"><use href="#dL" x="240"/></g><g id="k32_5"><use href="#dL" x="292"/></g><g id="k32_6"><use href="#dL" x="344"/></g><g id="k32_7"><use href="#dL" x="396"/></g><g id="k32_8"><use href="#dL" x="448"/></g><g id="k32_9"><use href="#dL" x="500"/></g><g id="k32_10"><use href="#dL" x="552"/></g><g id="k32_11"><use href="#dL" x="604"/></g><g id="k32_12"><use href="#dL" x="656"/></g><g id="k32_13"><use href="#dL" x="708"/></g><g id="k32_14"><use href="#dL" x="760"/></g><g id="k32_15"><use href="#dL" x="812"/></g><g id="k32_16"><use href="#dL" x="864"/></g><g id="k32_17"><use href="#dL" x="916"/></g></g>
<g id="row33" transform="translate(0,1726)"><g id="k33_1"><use href="#dR" x="84"/></g><g id="k33_2"><use href="#dR" x="136"/></g><g id="k33_3"><use href="#dR" x="188"/></g><g id="k33_4"><use href="#dR" x="240"/></g><g id="k33_5"><use href="#dR" x="292"/></g><g id="k33_6"><use href="#dR" x="344"/></g><g id="k33_7"><use href="#dR" x="396"/></g><g id="k33_8"><use href="#dR" x="448"/></g><g id="k33_9"><use href="#dR" x="500"/></g><g id="k33_10"><use href="#dR" x="552"/></g><g id="k33_11"><use href="#dR" x="604"/></g><g id="k33_12"><use href="#dR" x="656"/></g><g id="k33_13"><use href="#dR" x="708"/></g><g id="k33_14"><use href="#dR" x="760"/></g><g id="k33_15"><use href="#dR" x="812"/></g><g id="k33_16"><use href="#dR" x="864"/></g><g id="k33_17"><use href="#dR" x="916"/></g></g>
</g>
<text id="watermark" x="500" y="925" text-anchor="middle" font-family="'Liberation Sans', Arial, sans-serif" font-weight="bold" font-size="16" fill="#3a3a3a" textLength="154" lengthAdjust="spacingAndGlyphs">BRACELETBOOK.COM</text>
</svg>
